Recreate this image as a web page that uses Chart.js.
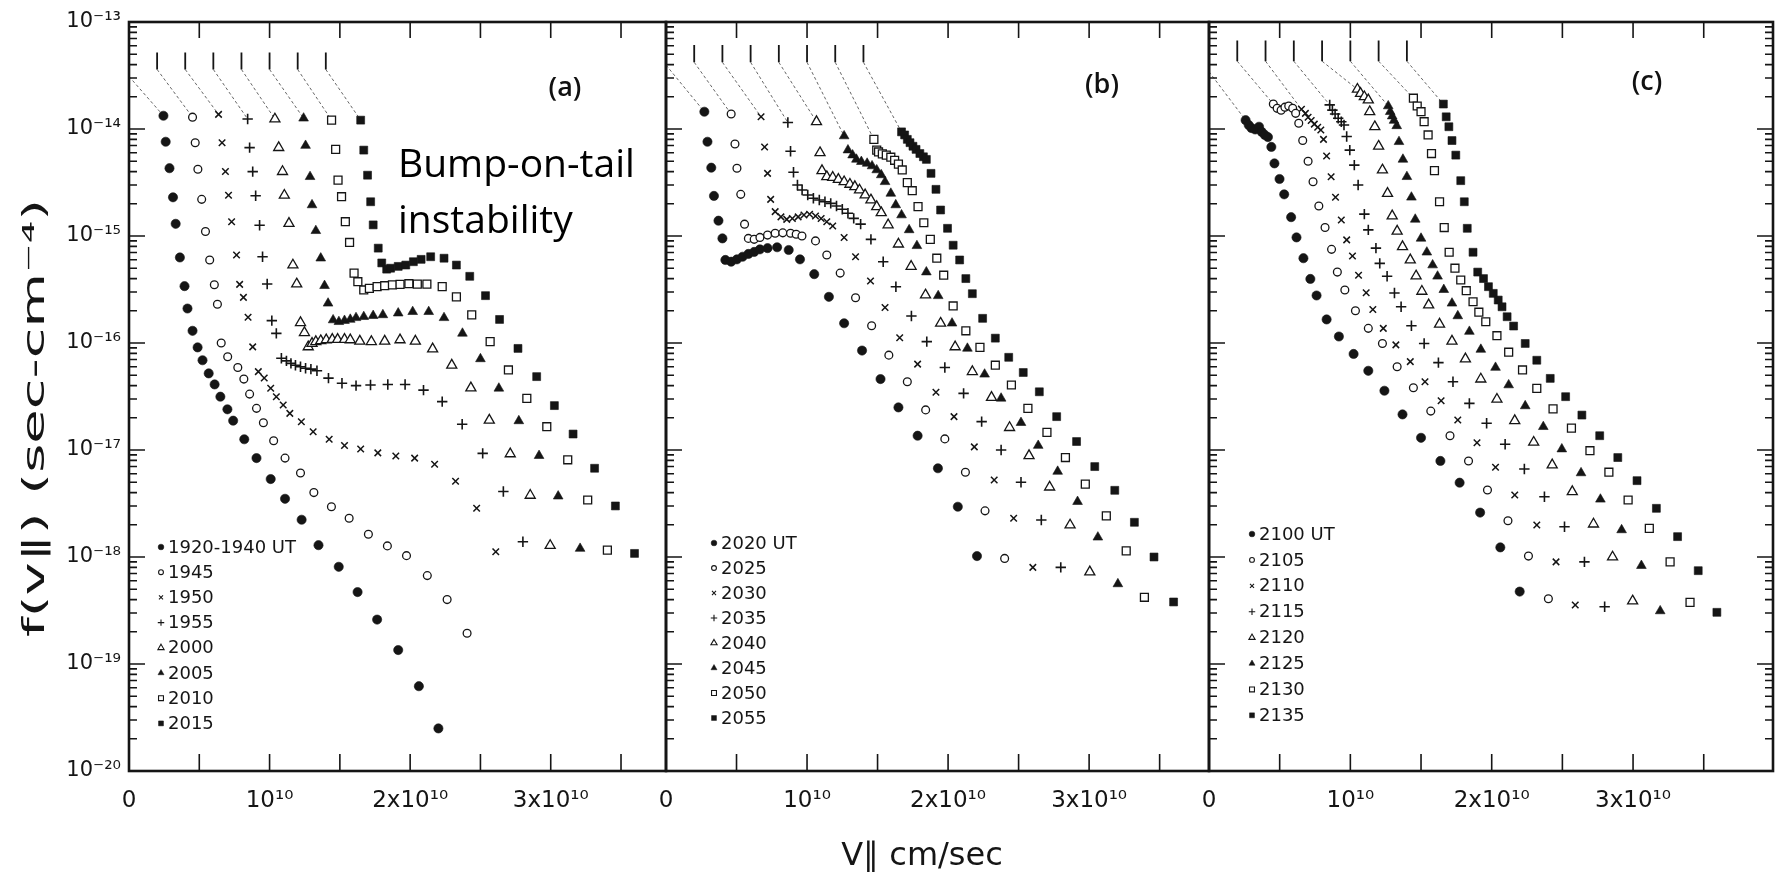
<!DOCTYPE html>
<html>
<head>
<meta charset="utf-8">
<script src="https://cdn.jsdelivr.net/npm/chart.js@4.4.1/dist/chart.umd.min.js"></script>
<style>
  html, body { margin: 0; padding: 0; background: #fff; }
  #fig { position: relative; width: 1785px; height: 880px; overflow: hidden; background: #fff; }
  #fig canvas { position: absolute; top: 0; }
</style>
</head>
<body>
<div id="fig">
  <canvas id="chartA" width="690" height="880" style="left:0px"></canvas>
  <canvas id="chartB" width="600" height="880" style="left:620px"></canvas>
  <canvas id="chartC" width="615" height="880" style="left:1170px"></canvas>
</div>
<script>
// velocities in units of 1e10 cm/sec, f(v) in sec-cm^-4
// axis ticks
const vTicks = [0, 0.5, 1, 1.5, 2, 2.5, 3, 3.5];
const vLabels = ["0", "", "10¹⁰", "", "2x10¹⁰", "", "3x10¹⁰", ""];
const fTicks = [1e-20, 1e-19, 1e-18, 1e-17, 1e-16, 1e-15, 1e-14, 1e-13];
const fLabels = ["10⁻²⁰", "10⁻¹⁹", "10⁻¹⁸", "10⁻¹⁷", "10⁻¹⁶", "10⁻¹⁵", "10⁻¹⁴", "10⁻¹³"];

// each curve is shifted right by its own origin (the short bars at the top)
const offsets = [0, 0.2, 0.4, 0.6, 0.8, 1.0, 1.2, 1.4];
const marksA = { top: 5.2e-14, bottom: 3.6e-14, axis: 3.1e-14 };
const marksB = { top: 6.1e-14, bottom: 4.2e-14, axis: 3.96e-14 };
const marksC = { top: 6.7e-14, bottom: 4.3e-14, axis: 3.43e-14 };

// ---- panel (a)
const timesA = ["1920-1940 UT", "1945", "1950", "1955", "2000", "2005", "2010", "2015"];
const a1920 = [[0.245,1.33e-14],[0.261,7.6e-15],[0.288,4.3e-15],[0.313,2.3e-15],[0.332,1.3e-15],[0.362,6.3e-16],[0.395,3.4e-16],[0.416,2.1e-16],[0.452,1.3e-16],[0.488,9.1e-17],[0.523,6.9e-17],[0.567,5.2e-17],[0.609,4.1e-17],[0.65,3.15e-17],[0.70,2.4e-17],[0.741,1.88e-17],[0.82,1.26e-17],[0.907,8.4e-18],[1.008,5.35e-18],[1.11,3.5e-18],[1.228,2.23e-18],[1.348,1.29e-18],[1.492,8.1e-19],[1.626,4.7e-19],[1.765,2.6e-19],[1.915,1.35e-19],[2.062,6.2e-20],[2.201,2.5e-20]];
const a1945 = [[0.452,1.29e-14],[0.471,7.45e-15],[0.49,4.2e-15],[0.517,2.2e-15],[0.544,1.1e-15],[0.574,5.97e-16],[0.607,3.5e-16],[0.629,2.3e-16],[0.656,1.0e-16],[0.702,7.45e-17],[0.774,5.9e-17],[0.817,4.6e-17],[0.858,3.33e-17],[0.907,2.45e-17],[0.956,1.8e-17],[1.029,1.22e-17],[1.11,8.4e-18],[1.22,6.1e-18],[1.315,4.0e-18],[1.44,2.95e-18],[1.566,2.3e-18],[1.703,1.63e-18],[1.838,1.27e-18],[1.974,1.03e-18],[2.122,6.7e-19],[2.263,4.0e-19],[2.405,1.94e-19]];
const a1950 = [[0.637,1.37e-14],[0.662,7.45e-15],[0.686,4.0e-15],[0.708,2.4e-15],[0.73,1.36e-15],[0.765,6.65e-16],[0.787,3.53e-16],[0.814,2.67e-16],[0.847,1.74e-16],[0.88,9.2e-17],[0.92,5.4e-17],[0.962,4.7e-17],[1.008,3.77e-17],[1.048,3.15e-17],[1.097,2.63e-17],[1.144,2.2e-17],[1.226,1.84e-17],[1.31,1.48e-17],[1.424,1.26e-17],[1.533,1.1e-17],[1.648,1.02e-17],[1.77,9.4e-18],[1.898,8.8e-18],[2.032,8.4e-18],[2.174,7.35e-18],[2.323,5.1e-18],[2.473,2.85e-18],[2.609,1.12e-18]];
const a1955 = [[0.844,1.24e-14],[0.858,6.7e-15],[0.88,4.0e-15],[0.901,2.38e-15],[0.929,1.26e-15],[0.95,6.4e-16],[0.983,3.56e-16],[1.016,1.62e-16],[1.048,1.23e-16],[1.084,7.2e-17],[1.12,6.8e-17],[1.152,6.45e-17],[1.184,6.2e-17],[1.22,6.0e-17],[1.256,5.8e-17],[1.294,5.7e-17],[1.337,5.5e-17],[1.419,4.7e-17],[1.515,4.2e-17],[1.615,4.0e-17],[1.718,4.05e-17],[1.841,4.1e-17],[1.964,4.1e-17],[2.095,3.63e-17],[2.228,2.83e-17],[2.37,1.74e-17],[2.516,9.3e-18],[2.663,4.1e-18],[2.802,1.39e-18]];
const a2000 = [[1.038,1.24e-14],[1.065,6.7e-15],[1.092,4.0e-15],[1.105,2.4e-15],[1.138,1.31e-15],[1.166,5.35e-16],[1.193,3.56e-16],[1.22,1.55e-16],[1.248,1.25e-16],[1.275,9.2e-17],[1.302,9.9e-17],[1.329,1.03e-16],[1.364,1.05e-16],[1.403,1.07e-16],[1.446,1.08e-16],[1.484,1.08e-16],[1.533,1.08e-16],[1.574,1.07e-16],[1.642,1.04e-16],[1.724,1.03e-16],[1.819,1.04e-16],[1.928,1.07e-16],[2.037,1.04e-16],[2.16,8.8e-17],[2.296,6.2e-17],[2.432,3.8e-17],[2.563,1.9e-17],[2.712,9.2e-18],[2.854,3.77e-18],[2.996,1.28e-18]];
const a2005 = [[1.242,1.26e-14],[1.256,7.0e-15],[1.288,3.58e-15],[1.302,1.95e-15],[1.329,1.12e-15],[1.364,6.2e-16],[1.391,3.43e-16],[1.416,2.35e-16],[1.452,1.64e-16],[1.493,1.58e-16],[1.533,1.62e-16],[1.574,1.66e-16],[1.615,1.72e-16],[1.67,1.76e-16],[1.737,1.8e-16],[1.806,1.83e-16],[1.915,1.9e-16],[2.018,1.96e-16],[2.132,1.96e-16],[2.241,1.72e-16],[2.372,1.23e-16],[2.5,7.1e-17],[2.631,3.77e-17],[2.773,1.87e-17],[2.917,8.85e-18],[3.053,3.7e-18],[3.209,1.2e-18]];
const a2010 = [[1.441,1.21e-14],[1.47,6.45e-15],[1.487,3.33e-15],[1.512,2.33e-15],[1.539,1.36e-15],[1.569,8.7e-16],[1.601,4.5e-16],[1.628,3.74e-16],[1.67,3.13e-16],[1.71,3.24e-16],[1.765,3.36e-16],[1.819,3.43e-16],[1.874,3.49e-16],[1.928,3.53e-16],[1.991,3.58e-16],[2.051,3.55e-16],[2.119,3.55e-16],[2.228,3.36e-16],[2.329,2.7e-16],[2.438,1.83e-16],[2.569,1.03e-16],[2.699,5.6e-17],[2.83,3.04e-17],[2.972,1.65e-17],[3.121,8.1e-18],[3.263,3.41e-18],[3.403,1.16e-18]];
const a2015 = [[1.648,1.21e-14],[1.67,6.35e-15],[1.697,3.7e-15],[1.719,2.09e-15],[1.737,1.27e-15],[1.773,7.7e-16],[1.798,5.6e-16],[1.833,4.9e-16],[1.861,5.0e-16],[1.915,5.2e-16],[1.969,5.35e-16],[2.023,5.75e-16],[2.078,6.05e-16],[2.146,6.4e-16],[2.241,6.2e-16],[2.329,5.35e-16],[2.424,4.2e-16],[2.536,2.77e-16],[2.636,1.66e-16],[2.767,8.9e-17],[2.9,4.85e-17],[3.026,2.6e-17],[3.159,1.41e-17],[3.312,6.75e-18],[3.46,3.0e-18],[3.596,1.08e-18]];

// ---- panel (b)
const timesB = ["2020 UT", "2025", "2030", "2035", "2040", "2045", "2050", "2055"];
const b2020 = [[0.272,1.45e-14],[0.294,7.6e-15],[0.321,4.35e-15],[0.34,2.37e-15],[0.372,1.39e-15],[0.4,9.5e-16],[0.421,5.97e-16],[0.462,5.75e-16],[0.503,6.05e-16],[0.543,6.4e-16],[0.584,6.8e-16],[0.625,7.1e-16],[0.666,7.5e-16],[0.72,7.7e-16],[0.788,7.85e-16],[0.87,7.4e-16],[0.95,6.05e-16],[1.051,4.4e-16],[1.155,2.7e-16],[1.263,1.53e-16],[1.39,8.5e-17],[1.521,4.6e-17],[1.648,2.5e-17],[1.784,1.36e-17],[1.928,6.75e-18],[2.069,2.95e-18],[2.205,1.02e-18]];
const b2025 = [[0.462,1.38e-14],[0.489,7.25e-15],[0.503,4.3e-15],[0.53,2.45e-15],[0.557,1.29e-15],[0.584,9.5e-16],[0.625,9.3e-16],[0.666,9.7e-16],[0.72,1.02e-15],[0.774,1.06e-15],[0.828,1.07e-15],[0.883,1.06e-15],[0.923,1.04e-15],[0.964,1.0e-15],[1.06,9.0e-16],[1.14,6.65e-16],[1.235,4.5e-16],[1.344,2.65e-16],[1.458,1.45e-16],[1.58,7.7e-17],[1.711,4.35e-17],[1.841,2.37e-17],[1.977,1.27e-17],[2.123,6.2e-18],[2.262,2.7e-18],[2.401,9.7e-19]];
const b2030 = [[0.674,1.3e-14],[0.699,6.8e-15],[0.72,3.85e-15],[0.742,2.2e-15],[0.774,1.69e-15],[0.815,1.51e-15],[0.856,1.43e-15],[0.896,1.46e-15],[0.937,1.51e-15],[0.978,1.57e-15],[1.018,1.6e-15],[1.06,1.54e-15],[1.1,1.46e-15],[1.14,1.36e-15],[1.182,1.24e-15],[1.263,9.7e-16],[1.344,6.4e-16],[1.45,3.8e-16],[1.553,2.15e-16],[1.657,1.12e-16],[1.784,6.35e-17],[1.914,3.46e-17],[2.042,2.05e-17],[2.186,1.07e-17],[2.327,5.25e-18],[2.465,2.3e-18],[2.601,8.0e-19]];
const b2035 = [[0.864,1.15e-14],[0.883,6.2e-15],[0.904,3.94e-15],[0.932,3.0e-15],[0.965,2.69e-15],[1.005,2.42e-15],[1.045,2.25e-15],[1.087,2.17e-15],[1.127,2.09e-15],[1.168,2.02e-15],[1.209,1.91e-15],[1.25,1.78e-15],[1.29,1.63e-15],[1.331,1.46e-15],[1.38,1.29e-15],[1.453,9.3e-16],[1.54,5.75e-16],[1.63,3.36e-16],[1.74,1.79e-16],[1.849,1.03e-16],[1.977,5.9e-17],[2.11,3.38e-17],[2.238,1.84e-17],[2.376,1.0e-17],[2.517,5.0e-18],[2.661,2.22e-18],[2.799,8.0e-19]];
const b2040 = [[1.067,1.17e-14],[1.092,6.0e-15],[1.106,4.08e-15],[1.14,3.58e-15],[1.182,3.53e-15],[1.222,3.38e-15],[1.263,3.21e-15],[1.304,3.04e-15],[1.339,2.89e-15],[1.372,2.69e-15],[1.412,2.42e-15],[1.453,2.17e-15],[1.494,1.88e-15],[1.526,1.65e-15],[1.575,1.27e-15],[1.648,8.4e-16],[1.738,5.2e-16],[1.84,2.81e-16],[1.947,1.53e-16],[2.05,9.2e-17],[2.172,5.4e-17],[2.308,3.1e-17],[2.436,1.62e-17],[2.574,8.85e-18],[2.72,4.5e-18],[2.865,1.99e-18],[3.005,7.25e-19]];
const b2045 = [[1.263,8.6e-15],[1.29,6.35e-15],[1.323,5.7e-15],[1.35,5.2e-15],[1.385,4.95e-15],[1.426,4.77e-15],[1.461,4.51e-15],[1.494,4.14e-15],[1.526,3.72e-15],[1.553,3.21e-15],[1.594,2.5e-15],[1.629,1.95e-15],[1.67,1.57e-15],[1.724,1.14e-15],[1.779,8.1e-16],[1.846,4.6e-16],[1.93,2.76e-16],[2.028,1.53e-16],[2.137,8.9e-17],[2.259,5.1e-17],[2.376,3.04e-17],[2.517,1.8e-17],[2.639,1.1e-17],[2.777,6.3e-18],[2.918,3.29e-18],[3.062,1.53e-18],[3.204,5.6e-19]];
const b2050 = [[1.474,8.0e-15],[1.494,6.35e-15],[1.507,6.1e-15],[1.534,5.85e-15],[1.562,5.7e-15],[1.594,5.45e-15],[1.621,5.1e-15],[1.648,4.7e-15],[1.675,4.14e-15],[1.711,3.15e-15],[1.746,2.65e-15],[1.787,1.88e-15],[1.828,1.33e-15],[1.874,9.3e-16],[1.92,6.2e-16],[1.969,4.3e-16],[2.036,2.22e-16],[2.126,1.3e-16],[2.226,9.1e-17],[2.335,6.2e-17],[2.449,4.05e-17],[2.566,2.45e-17],[2.701,1.46e-17],[2.832,8.5e-18],[2.973,4.8e-18],[3.122,2.42e-18],[3.263,1.14e-18],[3.392,4.2e-19]];
const b2055 = [[1.67,9.4e-15],[1.692,8.8e-15],[1.711,8.0e-15],[1.73,7.45e-15],[1.751,6.9e-15],[1.773,6.45e-15],[1.8,5.9e-15],[1.825,5.5e-15],[1.846,5.2e-15],[1.879,3.85e-15],[1.914,2.73e-15],[1.947,1.75e-15],[1.996,1.18e-15],[2.036,8.2e-16],[2.082,5.97e-16],[2.126,4.0e-16],[2.172,2.89e-16],[2.245,1.7e-16],[2.335,1.11e-16],[2.43,7.35e-17],[2.533,5.3e-17],[2.647,3.5e-17],[2.77,2.05e-17],[2.911,1.2e-17],[3.04,7.0e-18],[3.182,4.2e-18],[3.321,2.11e-18],[3.46,1.0e-18],[3.599,3.8e-19]];

// ---- panel (c)
const timesC = ["2100 UT", "2105", "2110", "2115", "2120", "2125", "2130", "2135"];
const c2100 = [[0.259,1.21e-14],[0.281,1.09e-14],[0.3,1.02e-14],[0.327,9.9e-15],[0.354,1.05e-14],[0.373,9.4e-15],[0.395,8.8e-15],[0.417,8.4e-15],[0.441,6.8e-15],[0.463,4.77e-15],[0.499,3.41e-15],[0.532,2.45e-15],[0.581,1.5e-15],[0.619,9.7e-16],[0.668,6.2e-16],[0.717,3.97e-16],[0.761,2.78e-16],[0.832,1.66e-16],[0.919,1.15e-16],[1.023,7.9e-17],[1.127,5.5e-17],[1.241,3.58e-17],[1.369,2.15e-17],[1.5,1.3e-17],[1.637,7.9e-18],[1.773,4.95e-18],[1.918,2.6e-18],[2.061,1.23e-18],[2.198,4.75e-19]];
const c2105 = [[0.455,1.71e-14],[0.482,1.56e-14],[0.51,1.5e-14],[0.537,1.6e-14],[0.564,1.64e-14],[0.592,1.56e-14],[0.613,1.4e-14],[0.635,1.13e-14],[0.663,7.8e-15],[0.701,5.0e-15],[0.736,3.21e-15],[0.777,1.91e-15],[0.821,1.2e-15],[0.867,7.5e-16],[0.908,4.6e-16],[0.961,3.13e-16],[1.036,2.0e-16],[1.127,1.37e-16],[1.227,9.9e-17],[1.331,6.0e-17],[1.446,3.82e-17],[1.569,2.31e-17],[1.705,1.36e-17],[1.836,7.9e-18],[1.97,4.23e-18],[2.115,2.18e-18],[2.26,1.02e-18],[2.401,4.07e-19]];
const c2110 = [[0.654,1.53e-14],[0.682,1.4e-14],[0.701,1.29e-14],[0.723,1.2e-14],[0.745,1.11e-14],[0.769,1.04e-14],[0.791,9.8e-15],[0.81,8.0e-15],[0.832,5.6e-15],[0.864,3.58e-15],[0.895,2.3e-15],[0.936,1.41e-15],[0.974,9.2e-16],[1.015,6.5e-16],[1.058,4.3e-16],[1.112,2.95e-16],[1.159,2.06e-16],[1.233,1.37e-16],[1.322,9.6e-17],[1.424,6.7e-17],[1.528,4.35e-17],[1.642,2.89e-17],[1.76,1.91e-17],[1.896,1.17e-17],[2.027,6.9e-18],[2.163,3.8e-18],[2.319,1.99e-18],[2.455,9.0e-19],[2.591,3.56e-19]];
const c2115 = [[0.854,1.68e-14],[0.873,1.5e-14],[0.892,1.38e-14],[0.914,1.26e-14],[0.936,1.17e-14],[0.955,1.09e-14],[0.974,8.5e-15],[0.996,6.35e-15],[1.028,4.6e-15],[1.055,3.0e-15],[1.099,1.6e-15],[1.127,1.14e-15],[1.181,7.7e-16],[1.208,5.55e-16],[1.26,4.2e-16],[1.312,2.93e-16],[1.359,2.18e-16],[1.432,1.45e-16],[1.522,9.9e-17],[1.623,6.55e-17],[1.726,4.35e-17],[1.842,2.73e-17],[1.964,1.78e-17],[2.095,1.13e-17],[2.231,6.65e-18],[2.373,3.66e-18],[2.515,1.92e-18],[2.656,9.0e-19],[2.799,3.43e-19]];
const c2120 = [[1.05,2.35e-14],[1.072,2.15e-14],[1.099,2.0e-14],[1.127,1.87e-14],[1.137,1.45e-14],[1.173,1.05e-14],[1.2,6.9e-15],[1.227,4.14e-15],[1.263,2.5e-15],[1.296,1.54e-15],[1.331,1.11e-15],[1.369,7.95e-16],[1.424,5.97e-16],[1.465,4.23e-16],[1.506,3.04e-16],[1.554,2.27e-16],[1.631,1.5e-16],[1.719,1.04e-16],[1.814,7.1e-17],[1.923,4.6e-17],[2.037,2.98e-17],[2.163,1.88e-17],[2.297,1.18e-17],[2.428,7.25e-18],[2.57,4.08e-18],[2.72,2.03e-18],[2.855,1.0e-18],[2.997,3.88e-19]];
const c2125 = [[1.268,1.64e-14],[1.282,1.45e-14],[1.296,1.32e-14],[1.309,1.2e-14],[1.328,1.07e-14],[1.344,7.6e-15],[1.372,5.2e-15],[1.4,3.58e-15],[1.432,2.3e-15],[1.459,1.43e-15],[1.5,9.5e-16],[1.541,7.05e-16],[1.582,5.35e-16],[1.617,4.2e-16],[1.661,3.15e-16],[1.719,2.35e-16],[1.76,1.79e-16],[1.842,1.28e-16],[1.923,8.7e-17],[2.027,5.9e-17],[2.12,4.05e-17],[2.237,2.58e-17],[2.365,1.65e-17],[2.496,1.02e-17],[2.632,6.1e-18],[2.769,3.46e-18],[2.919,1.79e-18],[3.059,8.3e-19],[3.192,3.13e-19]];
const c2130 = [[1.446,1.94e-14],[1.473,1.64e-14],[1.5,1.45e-14],[1.522,1.17e-14],[1.55,8.8e-15],[1.574,5.9e-15],[1.595,4.08e-15],[1.631,2.09e-15],[1.664,1.2e-15],[1.699,7.05e-16],[1.74,5.0e-16],[1.781,3.88e-16],[1.82,3.08e-16],[1.868,2.43e-16],[1.909,1.94e-16],[1.958,1.58e-16],[2.037,1.17e-16],[2.12,8.2e-17],[2.218,5.6e-17],[2.319,3.77e-17],[2.434,2.42e-17],[2.564,1.6e-17],[2.695,9.85e-18],[2.829,6.2e-18],[2.965,3.41e-18],[3.115,1.85e-18],[3.262,9.0e-19],[3.403,3.77e-19]];
const c2135 = [[1.658,1.71e-14],[1.678,1.3e-14],[1.697,1.05e-14],[1.719,7.8e-15],[1.746,5.7e-15],[1.781,3.29e-15],[1.806,2.09e-15],[1.827,1.18e-15],[1.868,7.05e-16],[1.901,4.6e-16],[1.942,4.0e-16],[1.977,3.36e-16],[2.011,2.91e-16],[2.046,2.52e-16],[2.073,2.18e-16],[2.109,1.76e-16],[2.155,1.44e-16],[2.237,9.9e-17],[2.319,6.9e-17],[2.414,4.67e-17],[2.523,3.15e-17],[2.638,2.12e-17],[2.764,1.36e-17],[2.892,8.5e-18],[3.028,5.17e-18],[3.165,2.85e-18],[3.315,1.55e-18],[3.461,7.45e-19],[3.593,3.04e-19]];

const FONT = "'DejaVu Sans', sans-serif";
const INK = "#151515";

// one marker per time step, same order in every panel
let markers = [
  { pointStyle: "circle", radius: 4.6, fill: true, bw: 0.6 },
  { pointStyle: "circle", radius: 3.9, fill: false, bw: 1.3 },
  { pointStyle: "crossRot", radius: 4.6, fill: false, bw: 1.5 },
  { pointStyle: "cross", radius: 5.2, fill: false, bw: 1.6 },
  { pointStyle: "triangle", radius: 5.8, fill: false, bw: 1.3 },
  { pointStyle: "triangle", radius: 5.6, fill: true, bw: 0.6 },
  { pointStyle: "rect", radius: 5.6, fill: false, bw: 1.3 },
  { pointStyle: "rect", radius: 5.6, fill: true, bw: 0.6 },
];

function seriesSets(series) {
  return series.map((pts, i) => ({
    data: pts.map((p) => ({ x: p[0], y: p[1] })),
    showLine: false,
    pointStyle: markers[i].pointStyle,
    pointRadius: markers[i].radius,
    pointBackgroundColor: markers[i].fill ? INK : "#fff",
    pointBorderColor: INK,
    pointBorderWidth: markers[i].bw,
  }));
}

// dashed leaders from each curve's origin bar to its first point
function offsetSets(series, marks) {
  let sets = [];
  series.forEach((pts, k) => {
    let x0 = offsets[k];
    sets.push({
      data: [{ x: x0, y: k === 0 ? marks.axis : marks.bottom }, { x: pts[0][0], y: pts[0][1] }],
      showLine: true,
      borderColor: "#555",
      borderWidth: 0.9,
      borderDash: [3, 2.5],
      pointRadius: 0,
    });
    if (k > 0) {
      sets.push({
        data: [{ x: x0, y: marks.top }, { x: x0, y: marks.bottom }],
        showLine: true,
        borderColor: INK,
        borderWidth: 1.8,
        pointRadius: 0,
      });
    }
  });
  return sets;
}

const figurePlugin = {
  id: "figure",
  afterDraw(chart, args, o) {
    const ctx = chart.ctx;
    const a = chart.chartArea;
    const xs = chart.scales.x;
    const ys = chart.scales.y;
    ctx.save();
    ctx.strokeStyle = INK;

    // inward ticks
    ctx.lineWidth = 1.6;
    ctx.beginPath();
    vTicks.forEach((v) => {
      if (v <= 0) return;
      let px = xs.getPixelForValue(v);
      ctx.moveTo(px, a.bottom);
      ctx.lineTo(px, a.bottom - 17);
      ctx.moveTo(px, a.top);
      ctx.lineTo(px, a.top + 16);
    });
    fTicks.forEach((v, i) => {
      for (let m = 1; m < 10; m++) {
        if (i === fTicks.length - 1 && m > 1) break;
        let py = ys.getPixelForValue(v * m);
        let len = m === 1 ? 16 : 8;
        ctx.moveTo(a.left, py);
        ctx.lineTo(a.left + len, py);
        if (o.rightTicks) {
          ctx.moveTo(a.right, py);
          ctx.lineTo(a.right - len, py);
        }
      }
    });
    ctx.stroke();

    // frame
    ctx.lineWidth = 2.6;
    ctx.strokeRect(a.left, a.top, a.right - a.left, a.bottom - a.top);

    // legend
    ctx.font = "18px " + FONT;
    ctx.textAlign = "left";
    ctx.textBaseline = "middle";
    o.times.forEach((t, i) => {
      let mk = markers[i];
      let lx = a.left + o.legendX;
      let ly = o.legendY + i * o.legendStep;
      ctx.fillStyle = mk.fill ? INK : "#fff";
      ctx.lineWidth = mk.fill ? 0.5 : 1.1;
      Chart.helpers.drawPoint(ctx, { pointStyle: mk.pointStyle, radius: mk.radius * 0.62, borderWidth: ctx.lineWidth, rotation: 0 }, lx, ly);
      ctx.fillStyle = INK;
      ctx.fillText(t, lx + 7, ly + 1);
    });

    // panel tag
    ctx.font = "600 27px 'Open Sans', sans-serif";
    ctx.textAlign = "center";
    ctx.fillStyle = "#111";
    ctx.fillText(o.tag, a.left + o.tagX, o.tagY);

    if (o.tag === "(a)") {
      ctx.font = "39px 'Open Sans', sans-serif";
      ctx.textAlign = "left";
      ctx.textBaseline = "alphabetic";
      ctx.fillStyle = "#000";
      ctx.fillText("Bump-on-tail", 398, 177);
      ctx.fillText("instability", 398, 233);

      // y title, stretched to the length it has in the figure
      ctx.font = "30px " + FONT;
      ctx.textAlign = "center";
      ctx.textBaseline = "middle";
      ctx.fillStyle = INK;
      let txt = "f(v∥) (sec-cm⁻⁴)";
      let w = ctx.measureText(txt).width;
      ctx.translate(36, 418);
      ctx.rotate(-Math.PI / 2);
      ctx.scale(438 / w, 1);
      ctx.fillText(txt, 0, 0);
      ctx.setTransform(1, 0, 0, 1, 0, 0);
    }
    if (o.tag === "(b)") {
      ctx.font = "32px " + FONT;
      ctx.textAlign = "center";
      ctx.textBaseline = "middle";
      ctx.fillStyle = INK;
      ctx.fillText("V∥ cm/sec", 302, 857);
    }
    ctx.restore();
  },
};

function makeChart(id, series, times, marks, panel) {
  return new Chart(document.getElementById(id), {
    type: "scatter",
    data: { datasets: [...seriesSets(series), ...offsetSets(series, marks)] },
    options: {
      responsive: false,
      animation: false,
      devicePixelRatio: 1,
      layout: { padding: { left: 0, right: panel.padRight, top: 22, bottom: 0 } },
      scales: {
        x: {
          type: "linear",
          min: 0,
          max: panel.vMax,
          afterBuildTicks: (s) => { s.ticks = vTicks.map((v) => ({ value: v })); },
          afterFit: (s) => { s.height = 109; },
          ticks: {
            callback: (v, i) => vLabels[i],
            autoSkip: false,
            maxRotation: 0,
            padding: 16,
            color: INK,
            font: { family: FONT, size: 23 },
          },
          grid: { display: false, drawTicks: false },
          border: { display: false },
        },
        y: {
          type: "logarithmic",
          min: 1e-20,
          max: 1e-13,
          afterBuildTicks: (s) => { s.ticks = fTicks.map((v) => ({ value: v })); },
          afterFit: (s) => { s.width = panel.axisLeft; },
          ticks: {
            display: panel.yLabels,
            callback: (v, i) => fLabels[i],
            padding: 8,
            color: INK,
            font: { family: FONT, size: 21 },
          },
          grid: { display: false, drawTicks: false },
          border: { display: false },
        },
      },
      plugins: {
        legend: { display: false },
        tooltip: { enabled: false },
        figure: {
          times: times,
          rightTicks: panel.rightTicks,
          legendX: panel.legendX,
          legendY: panel.legendY,
          legendStep: panel.legendStep,
          tag: panel.tag,
          tagX: panel.tagX,
          tagY: panel.tagY,
        },
      },
    },
    plugins: [figurePlugin],
  });
}

let chartA = makeChart("chartA",
  [a1920, a1945, a1950, a1955, a2000, a2005, a2010, a2015], timesA, marksA,
  { axisLeft: 129, padRight: 24, vMax: 3.82, yLabels: true, rightTicks: false,
    legendX: 32, legendY: 547, legendStep: 25.2, tag: "(a)", tagX: 436, tagY: 88 });

let chartB = makeChart("chartB",
  [b2020, b2025, b2030, b2035, b2040, b2045, b2050, b2055], timesB, marksB,
  { axisLeft: 46, padRight: 11, vMax: 3.85, yLabels: false, rightTicks: false,
    legendX: 48, legendY: 543, legendStep: 25, tag: "(b)", tagX: 436, tagY: 85 });

let chartC = makeChart("chartC",
  [c2100, c2105, c2110, c2115, c2120, c2125, c2130, c2135], timesC, marksC,
  { axisLeft: 39, padRight: 12, vMax: 3.99, yLabels: false, rightTicks: true,
    legendX: 43, legendY: 534, legendStep: 25.9, tag: "(c)", tagX: 438, tagY: 82 });
</script>
</body>
</html>
